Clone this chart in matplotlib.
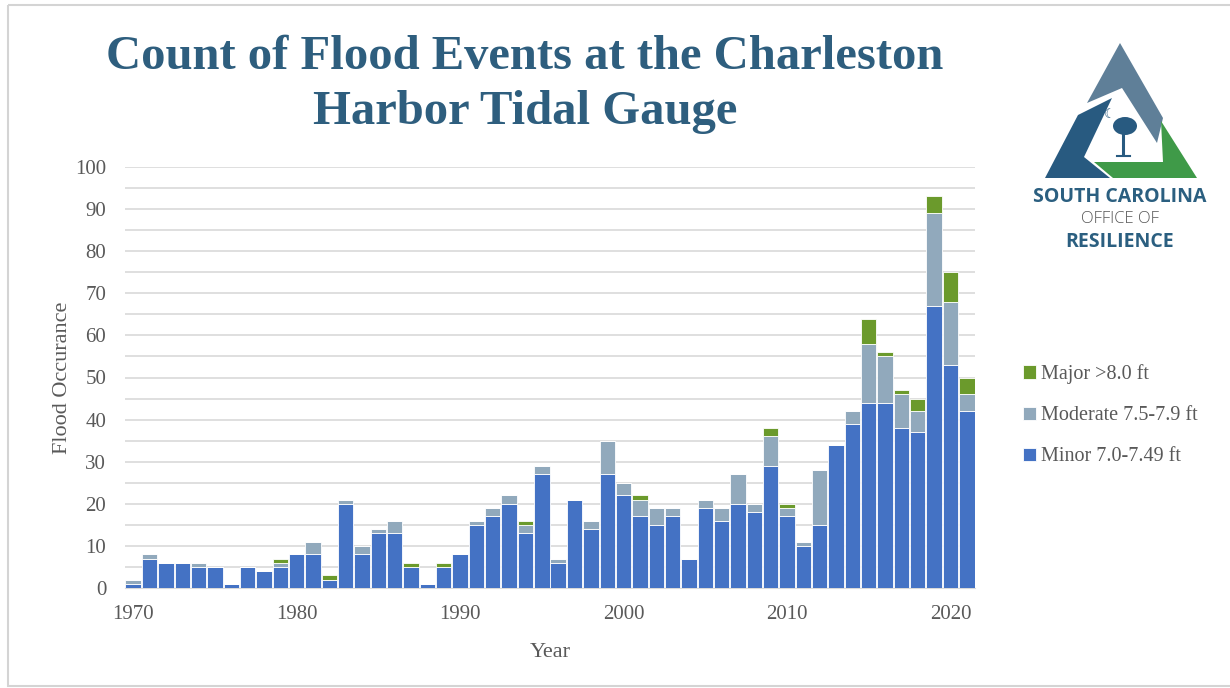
import numpy as np
import matplotlib
matplotlib.use('Agg')
import matplotlib.pyplot as plt
from matplotlib.patches import Polygon, Rectangle, Ellipse

plt.rcParams['font.family'] = ['Liberation Serif', 'DejaVu Serif']

# Flood counts per year at the Charleston Harbor gauge
years = list(range(1970, 2022))
minor = [1, 7, 6, 6, 5, 5, 1, 5, 4, 5, 8, 8, 2, 20, 8, 13, 13, 5, 1, 5,
         8, 15, 17, 20, 13, 27, 6, 21, 14, 27, 22, 17, 15, 17, 7, 19, 16, 20, 18, 29,
         17, 10, 15, 34, 39, 44, 44, 38, 37, 67, 53, 42]
moderate = [1, 1, 0, 0, 1, 0, 0, 0, 0, 1, 0, 3, 0, 1, 2, 1, 3, 0, 0, 0,
            0, 1, 2, 2, 2, 2, 1, 0, 2, 8, 3, 4, 4, 2, 0, 2, 3, 7, 2, 7,
            2, 1, 13, 0, 3, 14, 11, 8, 5, 22, 15, 4]
major = [0, 0, 0, 0, 0, 0, 0, 0, 0, 1, 0, 0, 1, 0, 0, 0, 0, 1, 0, 1,
         0, 0, 0, 0, 1, 0, 0, 0, 0, 0, 0, 1, 0, 0, 0, 0, 0, 0, 0, 2,
         1, 0, 0, 0, 0, 6, 1, 1, 3, 4, 7, 4]
labels = ['Minor 7.0-7.49 ft', 'Moderate 7.5-7.9 ft', 'Major >8.0 ft']
colors = ['#4472C4', '#91A9BC', '#6B9A2C']

W, H = 1230, 688
fig = plt.figure(figsize=(W / 100, H / 100), dpi=100)

# page frame + logo layer in pixel coordinates
bg = fig.add_axes([0, 0, 1, 1])
bg.set_xlim(0, W)
bg.set_ylim(H, 0)
bg.axis('off')
bg.add_patch(Rectangle((8, 5), W, H - 7, fill=False, ec='#d4d4d4', lw=1.5))

bg.text(525, 57, 'Count of Flood Events at the Charleston', ha='center', va='center',
        fontsize=35, fontweight='bold', color='#2E5E7E')
bg.text(525, 112, 'Harbor Tidal Gauge', ha='center', va='center',
        fontsize=35, fontweight='bold', color='#2E5E7E')

# office logo: three arms of a triangle with a palmetto in the middle
bg.add_patch(Polygon([(1120, 43), (1163, 118), (1157, 143), (1122, 88), (1087, 103)],
                     closed=True, fc='#5F7F98', ec='none'))
bg.add_patch(Polygon([(1045, 178), (1078, 115), (1112, 98), (1084, 157), (1110, 178)],
                     closed=True, fc='#285A80', ec='none'))
bg.add_patch(Polygon([(1161, 121), (1197, 178), (1113, 178), (1094, 162), (1163, 162)],
                     closed=True, fc='#3F9A48', ec='none'))
bg.plot([1123, 1123], [132, 156], color='#285A80', lw=2.2, solid_capstyle='butt')
bg.plot([1117, 1130], [156, 156], color='#285A80', lw=1.5)
bg.add_patch(Ellipse((1125, 126), 24, 18, fc='#285A80', ec='none'))
bg.text(1110, 115, '\u263E', ha='center', va='center', fontsize=9, color='#285A80',
        family=['DejaVu Sans'])
bg.text(1120, 197, 'SOUTH CAROLINA', ha='center', va='center', fontsize=14,
        fontweight='bold', color='#2B5F80', family=['Open Sans', 'DejaVu Sans'])
bg.text(1120, 219, 'OFFICE OF', ha='center', va='center', fontsize=12,
        fontweight='light', color='#555555', family=['Open Sans', 'DejaVu Sans'])
bg.text(1120, 242, 'RESILIENCE', ha='center', va='center', fontsize=14,
        fontweight='bold', color='#2B5F80', family=['Open Sans', 'DejaVu Sans'])

ax = fig.add_axes([125 / W, (H - 588) / H, 850 / W, 421 / H])
x = np.array(years)
bottom = np.zeros(len(years))
handles = []
for vals, lab, col in zip([minor, moderate, major], labels, colors):
    b = ax.bar(x, vals, width=0.94, bottom=bottom, color=col, edgecolor='white',
               linewidth=0.6, label=lab, zorder=3)
    bottom += np.array(vals)
    handles.append(b)

ax.set_xlim(1969.5, 2021.5)
ax.set_ylim(0, 100)
ax.set_yticks(range(0, 101, 10))
ax.set_yticks(range(0, 101, 5), minor=True)
ax.set_xticks(range(1970, 2021, 10))
ax.grid(axis='y', which='both', color='#d9d9d9', lw=1.2, zorder=0)
for s in ['top', 'right', 'left']:
    ax.spines[s].set_visible(False)
ax.spines['bottom'].set_color('#d9d9d9')
ax.tick_params(which='both', length=0, labelsize=15, labelcolor='#595959')
ax.tick_params(axis='y', pad=13.5)
ax.tick_params(axis='x', pad=12)
ax.set_xlabel('Year', fontsize=16, color='#595959', labelpad=14)
ax.set_ylabel('Flood Occurance', fontsize=16, color='#595959', labelpad=2)

leg = ax.legend(handles[::-1], labels[::-1], loc='center left', bbox_to_anchor=(1.035, 0.41),
                frameon=False, fontsize=14.5, handlelength=0.65, handleheight=0.65,
                handletextpad=0.25, labelspacing=1.1, labelcolor='#595959')

fig.savefig('out.png', dpi=100)
